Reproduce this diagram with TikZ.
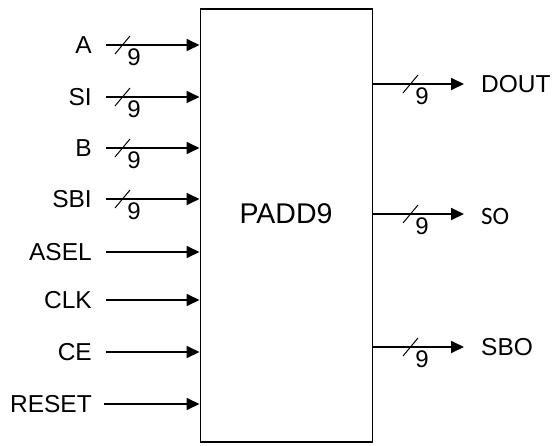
\documentclass[tikz,border=0pt]{standalone}
\usepackage{fontspec}
\setmainfont{Liberation Sans}
\newfontfamily\sofont{Carlito}
\usetikzlibrary{arrows.meta}
\begin{document}
\begin{tikzpicture}[x=1pt,y=-1pt,
  sig/.style={line width=1.8pt,-{Triangle[length=13pt,width=12pt]}},
  lbl/.style={inner sep=0pt,font=\fontsize{24.5}{26}\selectfont},
  bus/.style={line width=1pt},
  busn/.style={inner sep=0pt,font=\fontsize{24}{26}\selectfont}]
\useasboundingbox (0,0) rectangle (554,445);
\node[draw,line width=1.8pt,minimum width=172pt,minimum height=433pt,inner sep=0pt,anchor=north west] (box) at (199.5,8) {};
\node[inner sep=0pt,font=\fontsize{28.5}{30}\selectfont] (title) at (286,214) {PADD9};
% left inputs
\foreach \nm/\yy/\xs in {A/45/106,SI/97/106,B/148/106,SBI/199/106,ASEL/252/106,CLK/300/106,CE/352/106,RESET/404/104}{
  \node[lbl,anchor=east] (l\nm) at (92,\yy) {\nm};
  \coordinate (s\nm) at (\xs,\yy);
  \draw[sig] (s\nm) -- (box.west |- s\nm);
}
\foreach \nm/\yy in {A/45,SI/97,B/148,SBI/199}{
  \coordinate (pa\nm) at (115,\yy+9);
  \coordinate (pb\nm) at (130,\yy-9);
  \draw[bus] (pa\nm) -- (pb\nm);
  \node[busn] (n\nm) at (134,\yy+12) {9};
}
% right outputs
\foreach \nm/\yy in {DOUT/84,SO/214,SBO/347}{
  \coordinate (e\nm) at (464,\yy);
  \draw[sig] (box.east |- e\nm) -- (e\nm);
  \coordinate (qa\nm) at (403,\yy+9);
  \coordinate (qb\nm) at (418,\yy-9);
  \draw[bus] (qa\nm) -- (qb\nm);
  \node[busn] (m\nm) at (422,\yy+12) {9};
}
\node[lbl,anchor=west] (rDOUT) at (481,84) {DOUT};
\node[inner sep=0pt,anchor=west,font=\sofont\fontsize{25}{26}\selectfont] (rSO) at (481,216) {SO};
\node[lbl,anchor=west] (rSBO) at (481,347) {SBO};
\end{tikzpicture}
\end{document}
